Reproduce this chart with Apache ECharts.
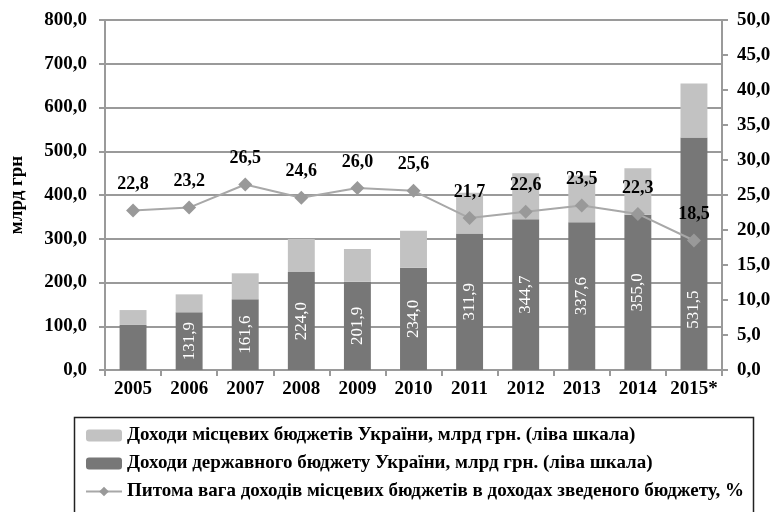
<!DOCTYPE html>
<html>
<head>
<meta charset="utf-8">
<script src="https://cdn.jsdelivr.net/npm/echarts@6/dist/echarts.min.js"></script>
<style>
  html, body { margin: 0; padding: 0; background: #fff; }
  #chart { width: 779px; height: 512px; }
</style>
</head>
<body>
<div id="chart"></div>
<script>
// Years on the category axis
const years = ['2005', '2006', '2007', '2008', '2009', '2010', '2011', '2012', '2013', '2014', '2015*'];
// State budget revenues, bn UAH (left scale)
const stateRevenue = [103.0, 131.9, 161.6, 224.0, 201.9, 234.0, 311.9, 344.7, 337.6, 355.0, 531.5];
// Local budget revenues, bn UAH (left scale), stacked on top of state revenues
const localRevenue = [34.0, 41.0, 59.4, 75.4, 74.7, 84.5, 93.0, 104.8, 107.0, 106.0, 123.5];
// Share of local budget revenues in consolidated budget revenues, % (right scale)
const localShare = [22.8, 23.2, 26.5, 24.6, 26.0, 25.6, 21.7, 22.6, 23.5, 22.3, 18.5];
// Left and right axis ranges
const leftAxis = { min: 0, max: 800, interval: 100 };
const rightAxis = { min: 0, max: 50, interval: 5 };

const names = {
  local: 'Доходи місцевих бюджетів України, млрд грн. (ліва шкала)',
  state: 'Доходи державного бюджету України, млрд грн. (ліва шкала)',
  share: 'Питома вага доходів місцевих бюджетів в доходах зведеного бюджету, %'
};

const serif = '"Liberation Serif", "DejaVu Serif", serif';
const comma = v => v.toFixed(1).replace('.', ',');
const axisGray = '#9a9a9a';

const chart = echarts.init(document.getElementById('chart'), null, { renderer: 'canvas' });

// Value labels inside the state-budget bars; the first bar is too short for one,
// and the last one sits lower so the share line does not cover it
const stateBarData = stateRevenue.map((v, i) => {
  const item = { value: v, label: { show: i > 0 } };
  if (i === stateRevenue.length - 1) {
    item.label.position = ['50%', '74%'];
    item.label.align = 'center';
    item.label.verticalAlign = 'middle';
  }
  return item;
});

chart.setOption({
  animation: false,
  backgroundColor: '#fff',
  grid: { left: 98, right: 57, top: 20, bottom: 142, containLabel: false },
  legend: {
    orient: 'vertical',
    left: 80,
    top: 421,
    height: 300,
    itemWidth: 36,
    itemHeight: 12,
    itemGap: 9,
    data: [
      { name: names.local },
      { name: names.state },
      { name: names.share }
    ],
    textStyle: { fontFamily: serif, fontWeight: 'bold', fontSize: 19, color: '#000' }
  },
  graphic: [{
    type: 'rect',
    left: 72, top: 415,
    shape: { width: 679, height: 110 },
    style: { fill: 'none', stroke: '#222', lineWidth: 1.5 },
    silent: true
  }],
  xAxis: {
    type: 'category',
    data: years,
    axisLine: { lineStyle: { color: axisGray, width: 2 } },
    axisTick: { show: true, length: 6, lineStyle: { color: axisGray, width: 2 } },
    axisLabel: { interval: 0, fontFamily: serif, fontWeight: 'bold', fontSize: 19, color: '#000', margin: 10 }
  },
  yAxis: [{
    type: 'value',
    min: leftAxis.min, max: leftAxis.max, interval: leftAxis.interval,
    name: 'млрд грн',
    nameLocation: 'middle',
    nameRotate: 90,
    nameGap: 78,
    nameTextStyle: { fontFamily: serif, fontWeight: 'bold', fontSize: 19, color: '#000' },
    axisLine: { show: true, lineStyle: { color: axisGray, width: 2 } },
    axisTick: { show: true, length: 6, lineStyle: { color: axisGray, width: 2 } },
    splitLine: { show: true, lineStyle: { color: axisGray, width: 2 } },
    axisLabel: { formatter: comma, fontFamily: serif, fontWeight: 'bold', fontSize: 19, color: '#000', margin: 18 }
  }, {
    type: 'value',
    position: 'right',
    min: rightAxis.min, max: rightAxis.max, interval: rightAxis.interval,
    axisLine: { show: true, lineStyle: { color: axisGray, width: 2 } },
    axisTick: { show: true, length: 6, lineStyle: { color: axisGray, width: 2 } },
    splitLine: { show: false },
    axisLabel: { formatter: comma, fontFamily: serif, fontWeight: 'bold', fontSize: 19, color: '#000', margin: 15 }
  }],
  series: [{
    name: names.state,
    type: 'bar',
    stack: 'revenue',
    barWidth: '48%',
    itemStyle: { color: '#777777' },
    data: stateBarData,
    label: {
      position: 'inside',
      rotate: 90,
      formatter: p => comma(p.value),
      color: '#fff',
      fontFamily: serif,
      fontSize: 17
    }
  }, {
    name: names.local,
    type: 'bar',
    stack: 'revenue',
    barWidth: '48%',
    itemStyle: { color: '#c2c2c2' },
    data: localRevenue
  }, {
    name: names.share,
    type: 'line',
    yAxisIndex: 1,
    data: localShare,
    symbol: 'diamond',
    symbolSize: 14,
    itemStyle: { color: '#999999' },
    lineStyle: { color: '#a8a8a8', width: 2 },
    label: {
      show: true,
      position: 'top',
      distance: 10,
      formatter: p => comma(p.value),
      fontFamily: serif,
      fontWeight: 'bold',
      fontSize: 18,
      color: '#000'
    },
    z: 5
  }]
});
</script>
</body>
</html>
